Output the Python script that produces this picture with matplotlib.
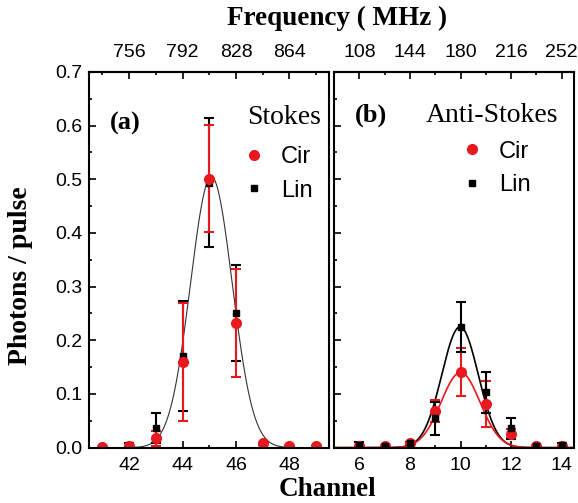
import numpy as np
import matplotlib
matplotlib.use('Agg')
import matplotlib.pyplot as plt
from matplotlib.lines import Line2D
from matplotlib.ticker import MultipleLocator

SERIF = 'Liberation Serif'
SANS = 'Liberation Sans'
RED = '#e8191e'

# (a) Stokes
ch_a = [41, 42, 43, 44, 45, 46, 47, 48, 49]
cir_a = [0.002, 0.004, 0.0175, 0.160, 0.501, 0.232, 0.008, 0.004, 0.003]
cir_a_err = [0, 0, 0.014, 0.110, 0.100, 0.100, 0, 0, 0]
lin_a = [0.001, 0.005, 0.036, 0.171, 0.494, 0.251, 0.005, 0.003, 0.003]
lin_a_err = [0, 0.003, 0.028, 0.102, 0.120, 0.090, 0, 0, 0]
fit_a = (0.505, 45.08, 0.78)          # amplitude, centre, sigma

# (b) Anti-Stokes
ch_b = [6, 7, 8, 9, 10, 11, 12, 13, 14]
cir_b = [0.003, 0.004, 0.008, 0.068, 0.141, 0.082, 0.026, 0.004, 0.003]
cir_b_err = [0, 0, 0, 0.020, 0.045, 0.043, 0.008, 0, 0]
lin_b = [0.005, 0.003, 0.008, 0.055, 0.225, 0.103, 0.036, 0.003, 0.005]
lin_b_err = [0.005, 0, 0.003, 0.031, 0.047, 0.038, 0.020, 0, 0.003]
fit_b_lin = (0.225, 9.98, 0.72)
fit_b_cir = (0.140, 10.0, 0.77)

# channel -> frequency (MHz), 18 MHz per channel
f_ref_a = (42, 756)
f_ref_b = (6, 108)
top_ticks_a = [756, 792, 828, 864]
top_ticks_b = [108, 144, 180, 216, 252]


def gauss(x, p):
    a, c, s = p
    return a*np.exp(-(x-c)**2/(2*s**2))


fig = plt.figure(figsize=(5.78, 5.03), dpi=100)
axa = fig.add_axes([0.154, 0.110, 0.416, 0.747])
axb = fig.add_axes([0.578, 0.110, 0.4157, 0.747])


def style(ax, xlim, xticks, ref, top_ticks, ylabels):
    ax.set_xlim(*xlim)
    ax.set_ylim(0, 0.7)
    ax.set_xticks(xticks)
    ax.xaxis.set_minor_locator(MultipleLocator(1))
    ax.yaxis.set_major_locator(MultipleLocator(0.1))
    ax.yaxis.set_minor_locator(MultipleLocator(0.05))
    ax.tick_params(which='both', direction='in', width=1.2, top=False, right=False)
    ax.tick_params(which='major', length=5)
    ax.tick_params(which='minor', length=2.5)
    ax.tick_params(axis='x', pad=7)
    ax.tick_params(axis='y', pad=5, labelleft=ylabels)
    for lab in ax.get_xticklabels() + ax.get_yticklabels():
        lab.set_fontfamily(SANS)
        lab.set_fontsize(14)
    for sp in ax.spines.values():
        sp.set_linewidth(1.5)
    c0, f0 = ref
    sec = ax.secondary_xaxis('top', functions=(lambda c: f0 + 18*(c - c0),
                                               lambda f: c0 + (f - f0)/18.0))
    sec.set_xticks(top_ticks)
    sec.xaxis.set_minor_locator(MultipleLocator(18))
    sec.tick_params(which='both', direction='in', width=1.2, pad=8)
    sec.tick_params(which='major', length=5)
    sec.tick_params(which='minor', length=2.5)
    for lab in sec.get_xticklabels():
        lab.set_fontfamily(SANS)
        lab.set_fontsize(14)
    sec.spines['top'].set_linewidth(1.5)


ebkw = dict(linestyle='none', elinewidth=1.5, capsize=3.5, capthick=1.5)

# panel (a)
xa = np.linspace(40.5, 49.5, 400)
axa.plot(xa, gauss(xa, fit_a), color='#333333', lw=0.8)
axa.errorbar(ch_a, lin_a, yerr=lin_a_err, marker='s', ms=5, color='black', **ebkw)
axa.errorbar(ch_a, cir_a, yerr=cir_a_err, marker='o', ms=7, color=RED, **ebkw)
style(axa, (40.5, 49.5), [42, 44, 46, 48], f_ref_a, top_ticks_a, True)

# panel (b)
xb = np.linspace(5, 14.5, 400)
axb.plot(xb, gauss(xb, fit_b_lin), color='black', lw=1.2)
axb.plot(xb, gauss(xb, fit_b_cir), color=RED, lw=1.2)
axb.errorbar(ch_b, cir_b, yerr=cir_b_err, marker='o', ms=7, color=RED, **ebkw)
axb.errorbar(ch_b, lin_b, yerr=lin_b_err, marker='s', ms=5, color='black', **ebkw)
style(axb, (5, 14.5), [6, 8, 10, 12, 14], f_ref_b, top_ticks_b, False)

handles = [Line2D([], [], ls='none', marker='o', ms=7, color=RED),
           Line2D([], [], ls='none', marker='s', ms=5, color='black')]
legends = [(axa, 'Stokes', (0.811, 0.878), (0.636, 0.803)),
           (axb, 'Anti-Stokes', (0.658, 0.883), (0.524, 0.817))]
for ax, title, tpos, lpos in legends:
    ax.text(tpos[0], tpos[1], title, transform=ax.transAxes, fontfamily=SERIF,
            fontsize=20, ha='center', va='center')
    ax.legend(handles, ['Cir', 'Lin'], loc='upper left', bbox_to_anchor=lpos,
              frameon=False, handlelength=1.0, handletextpad=0.65,
              labelspacing=0.5, borderpad=0, borderaxespad=0,
              prop={'family': SANS, 'size': 17})

axa.text(0.087, 0.864, '(a)', transform=axa.transAxes, fontfamily=SERIF,
         fontweight='bold', fontsize=19, va='center', ha='left')
axb.text(0.087, 0.885, '(b)', transform=axb.transAxes, fontfamily=SERIF,
         fontweight='bold', fontsize=19, va='center', ha='left')

fig.text(0.036, 0.453, 'Photons / pulse', rotation=90, fontfamily=SERIF,
         fontweight='bold', fontsize=20, ha='center', va='center')
fig.text(0.566, 0.026, 'Channel', fontfamily=SERIF, fontweight='bold',
         fontsize=19.5, ha='center', va='center')
fig.text(0.583, 0.964, 'Frequency ( MHz )', fontfamily=SERIF, fontweight='bold',
         fontsize=19.5, ha='center', va='center')

fig.savefig('out.png', dpi=100)
